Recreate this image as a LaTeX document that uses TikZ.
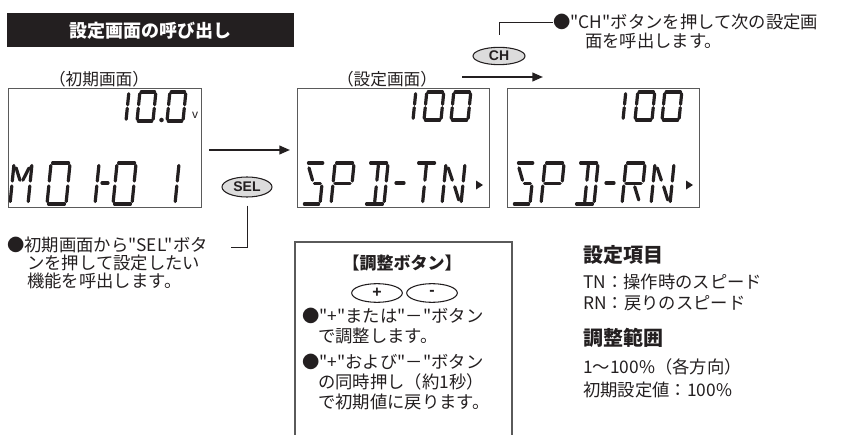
\documentclass[tikz,border=0pt]{standalone}
\usepackage{fontspec}
\setmainfont{Noto Sans CJK JP}[Ligatures=TeXOff]
\newfontfamily\arialf{Liberation Sans}
\usetikzlibrary{arrows.meta,shapes.geometric}
\definecolor{ink}{HTML}{231F20}
\definecolor{btngray}{HTML}{DCDCDC}
\definecolor{frame}{HTML}{5A5A5A}
% segment primitives (unit cell, v up)
\newcommand\lsA{\draw (0.08,1)--(0.92,1);}
\newcommand\lsB{\draw (1,0.94)--(1,0.56);}
\newcommand\lsC{\draw (1,0.44)--(1,0.06);}
\newcommand\lsD{\draw (0.08,0)--(0.92,0);}
\newcommand\lsE{\draw (0,0.06)--(0,0.44);}
\newcommand\lsF{\draw (0,0.56)--(0,0.94);}
\newcommand\lsG{\draw (0.1,0.5)--(0.9,0.5);}
\newcommand\lsK{\draw (0.55,0.5)--(0.9,0.5);}
\newcommand\lsI{\draw (0.5,0.94)--(0.5,0.58);}
\newcommand\lsL{\draw (0.5,0.42)--(0.5,0.06);}
\newcommand\lsP{\draw (0.14,0.88)--(0.42,0.58);}
\newcommand\lsQ{\draw (0.86,0.88)--(0.58,0.58);}
\newcommand\lsR{\draw (0.58,0.42)--(0.86,0.1);}
\newcommand\lcdchar[5]{%
  \begin{scope}[shift={(#1,#2)},xslant=0.1,xscale=#3,yscale=-#4,seg]
    \foreach \s in {#5}{\csname ls\s\endcsname}
  \end{scope}}
\begin{document}
\begin{tikzpicture}[x=0.75pt,y=-0.75pt,
  font=\fontsize{13pt}{15pt}\selectfont, color=ink,
  seg/.style={line width=2.4pt,line cap=round,draw=ink},
  lcd/.style={draw=frame,line width=1pt},
  txt/.style={anchor=west,inner sep=0pt,text=ink},
  head/.style={anchor=west,inner sep=0pt,text=ink,font=\fontsize{15pt}{18pt}\selectfont\bfseries},
  btn/.style={ellipse,draw=ink,line width=0.8pt,fill=btngray,inner sep=0pt,
    font=\arialf\fontsize{10.5pt}{12pt}\selectfont\bfseries},
  pm/.style={ellipse,draw=ink,line width=0.8pt,fill=white,inner sep=0pt,
    minimum width=38pt,minimum height=14pt,font=\arialf\fontsize{12pt}{12pt}\selectfont\bfseries},
  conn/.style={draw=ink,line width=0.6pt},
  flow/.style={draw=ink,line width=1.5pt,-{Triangle[length=8pt,width=6.5pt]}}]
\useasboundingbox (0,0) rectangle (846,435);

% title bar
\node[fill=ink,minimum width=215pt,minimum height=25.5pt,inner sep=0pt,anchor=north west,
  text=white,font=\fontsize{13.5pt}{15pt}\selectfont\bfseries] (title) at (7,13) {設定画面の呼び出し};

% captions
\node[inner sep=0pt,font=\fontsize{12.5pt}{15pt}\selectfont] (cap1) at (99,79) {（初期画面）};
\node[inner sep=0pt,font=\fontsize{12.5pt}{15pt}\selectfont] (cap2) at (387,79) {（設定画面）};

% LCD frames
\node[lcd,anchor=north west,minimum width=144.75pt,minimum height=89.25pt,inner sep=0pt] (lcd1) at (8,88) {};
\node[lcd,anchor=north west,minimum width=144pt,minimum height=89.25pt,inner sep=0pt] (lcd2) at (297,88) {};
\node[lcd,anchor=north west,minimum width=144pt,minimum height=89.25pt,inner sep=0pt] (lcd3) at (507,88) {};

% LCD 1 contents
\lcdchar{126}{121}{10}{29}{E,F}
\lcdchar{137}{121}{16}{29}{A,B,C,D,E,F}
\fill[ink] (161.5,120) circle (1.7pt);
\lcdchar{167}{121}{16}{29}{A,B,C,D,E,F}
\node[inner sep=0pt,font=\arialf\fontsize{9pt}{10pt}\selectfont] (volt) at (195,115) {v};
\lcdchar{10}{204}{18}{41}{F,E,B,C,P,Q}
\lcdchar{47}{204}{19}{41}{A,B,C,D,E,F}
\lcdchar{95}{204}{10}{41}{E,F}
\draw[seg] (102,183)--(108,183);
\lcdchar{113}{204}{19}{41}{A,B,C,D,E,F}
\lcdchar{175}{204}{10}{41}{E,F}

% LCD 2 contents
\lcdchar{413}{120}{10}{28}{E,F}
\lcdchar{424}{120}{17}{28}{A,B,C,D,E,F}
\lcdchar{451}{120}{17}{28}{A,B,C,D,E,F}
\lcdchar{303}{204}{17}{41}{A,P,K,C,D}
\lcdchar{331}{204}{19}{41}{A,B,F,E,G}
\lcdchar{365}{204}{19}{41}{A,B,C,D,I,L}
\draw[seg] (396,183)--(404,183);
\lcdchar{413}{204}{19}{41}{A,I,L}
\lcdchar{442}{204}{19}{41}{F,E,B,C,P,R}
\fill[ink] (476,180.5) -- (483,185) -- (476,189.5) -- cycle;

% LCD 3 contents
\lcdchar{623}{120}{10}{28}{E,F}
\lcdchar{635}{120}{17}{28}{A,B,C,D,E,F}
\lcdchar{662}{120}{17}{28}{A,B,C,D,E,F}
\lcdchar{513}{204}{17}{41}{A,P,K,C,D}
\lcdchar{541}{204}{19}{41}{A,B,F,E,G}
\lcdchar{575}{204}{19}{41}{A,B,C,D,I,L}
\draw[seg] (606,183)--(614,183);
\lcdchar{622}{204}{19}{41}{A,B,F,E,G,R}
\lcdchar{651}{204}{19}{41}{F,E,B,C,P,R}
\fill[ink] (686,180.5) -- (693,185) -- (686,189.5) -- cycle;

% flow arrows
\coordinate (a1s) at (209,150);
\coordinate (a1e) at (290,150);
\draw[flow] (a1s) -- (a1e);
\coordinate (a2s) at (462,77);
\coordinate (a2e) at (543,77);
\draw[flow] (a2s) -- (a2e);

% buttons
\node[btn,minimum width=37.5pt,minimum height=15pt] (sel) at (247,187) {SEL};
\node[btn,minimum width=39pt,minimum height=13pt] (ch) at (499,56) {CH};

% SEL note
\coordinate (selend) at (231,247);
\draw[conn] ([yshift=-6pt]sel.south) |- (selend);
\node[txt] (seltx1) at (7,245) {●初期画面から"SEL"ボタ};
\node[txt] (seltx2) at (27,263) {ンを押して設定したい};
\node[txt] (seltx3) at (27,281) {機能を呼出します。};

% CH note
\coordinate (chend) at (553,22);
\draw[conn] ([yshift=9pt]ch.north) |- (chend);
\node[txt] (chtx1) at (553,22) {●"CH"ボタンを押して次の設定画};
\node[txt] (chtx2) at (585,41) {面を呼出します。};

% adjust box
\draw[lcd] (295,435) -- (295,242) -- (512,242) -- (512,435);
\node[inner sep=0pt,font=\fontsize{12.75pt}{15pt}\selectfont\bfseries] (adjt) at (402,263) {【調整ボタン】};
\node[pm] (plus) at (377,293) {+};
\node[pm] (minus) at (432,293) {-};
\node[txt] (adj1) at (302,316) {●"+"または"－"ボタン};
\node[txt] (adj2) at (318,336) {で調整します。};
\node[txt] (adj3) at (302,362) {●"+"および"－"ボタン};
\node[txt] (adj4) at (318,382) {の同時押し（約1秒）};
\node[txt] (adj5) at (318,402) {で初期値に戻ります。};

% right column
\node[head] (h1) at (583,255) {設定項目};
\node[txt] (r1) at (583,282) {TN：操作時のスピード};
\node[txt] (r2) at (583,303) {RN：戻りのスピード};
\node[head] (h2) at (583,338) {調整範囲};
\node[txt] (r3) at (583,367) {1～100\%（各方向）};
\node[txt] (r4) at (583,390) {初期設定値：100\%};
\end{tikzpicture}
\end{document}
